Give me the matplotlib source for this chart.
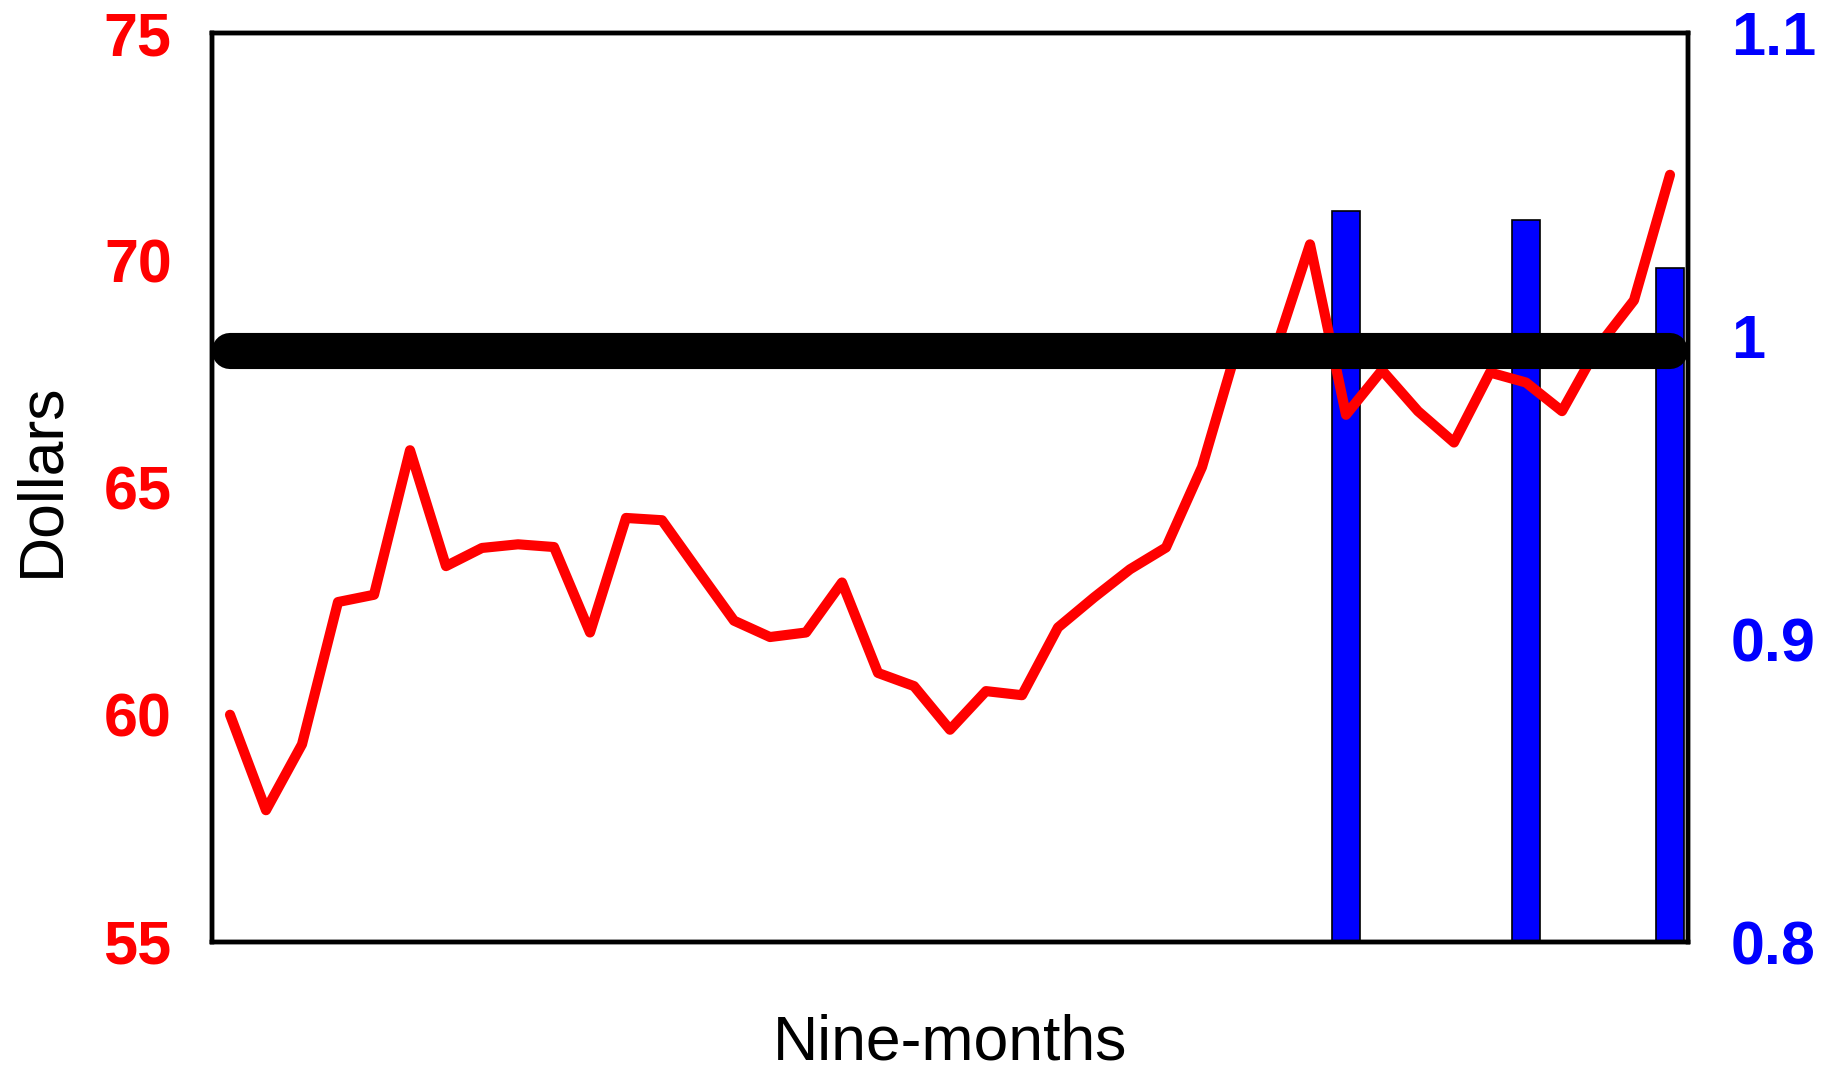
import matplotlib
matplotlib.use("Agg")
import matplotlib.pyplot as plt
import numpy as np

plt.rcParams['font.family'] = ['Liberation Sans', 'DejaVu Sans']

# ---- data ----
prices = [60.0, 57.9, 59.35, 62.48, 62.64, 65.82, 63.27, 63.67, 63.75, 63.69,
          61.81, 64.33, 64.28, 63.17, 62.07, 61.71, 61.81, 62.91, 60.92, 60.63,
          59.67, 60.52, 60.43, 61.92, 62.58, 63.2, 63.68, 65.45, 68.15, 67.93,
          70.35, 66.6, 67.58, 66.68, 65.99, 67.53, 67.31, 66.68, 68.1, 69.12,
          71.88]
bar_idx = [31, 36, 40]
bar_vals = [1.0413, 1.0382, 1.0225]
ref_level = 68.0
left_ticks = [55, 60, 65, 70, 75]
right_ticks = [0.8, 0.9, 1.0, 1.1]
right_tick_labels = ["0.8", "0.9", "1", "1.1"]
xlabel = "Nine-months"
ylabel = "Dollars"

x = np.arange(len(prices))

fig = plt.figure(figsize=(18.39, 10.69), dpi=100)
ax = fig.add_axes([212/1839, 1-942/1069, (1688-212)/1839, (942-33)/1069])
ax2 = ax.twinx()

# bars on right axis (drawn below)
ax2.bar(bar_idx, bar_vals, width=0.8, color='#0000FF', edgecolor='black', linewidth=1.2)
ax2.set_ylim(0.8, 1.1)
ax2.set_yticks(right_ticks)
ax2.set_yticklabels(right_tick_labels)

# line + reference on left axis (drawn above)
ax.set_zorder(ax2.get_zorder() + 1)
ax.patch.set_visible(False)
ax.plot(x, prices, color='#FF0000', linewidth=7.3, solid_capstyle='round', solid_joinstyle='round', zorder=3)
ax.plot([x[0], x[-1]], [ref_level, ref_level], color='black', linewidth=26,
        solid_capstyle='round', zorder=4)
ax.set_ylim(55, 75)
ax.set_xlim(-0.5, len(prices) - 0.5)
ax.set_yticks(left_ticks)
ax.set_xticks([])

for a in (ax, ax2):
    for s in a.spines.values():
        s.set_linewidth(3.2)
        s.set_color('black')

ax.tick_params(axis='y', length=0, pad=29, labelsize=44, labelcolor='#FF0000')
ax2.tick_params(axis='y', length=0, pad=31, labelsize=44, labelcolor='#0000FF')
for lab in ax.get_yticklabels():
    lab.set_fontweight('bold')
for lab in ax2.get_yticklabels():
    lab.set_fontweight('bold')

fig.text(950/1839, 1 - 1059/1069, xlabel, ha='center', va='baseline', fontsize=45, color='black')
fig.text(42/1839, 1 - 480/1069, ylabel, ha='center', va='center', rotation=90, fontsize=45, color='black')

fig.savefig("out.png", dpi=100)
